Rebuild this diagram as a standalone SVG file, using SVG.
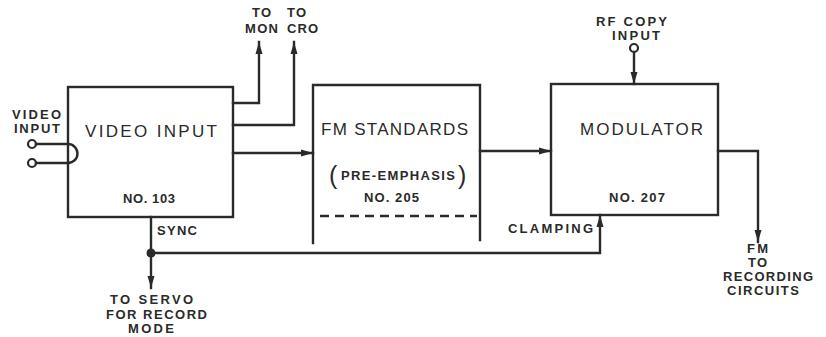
<svg xmlns="http://www.w3.org/2000/svg" width="826" height="337" viewBox="0 0 826 337">
<style>
.ln{fill:none;stroke:#2a2a2a;stroke-width:2.4;stroke-linecap:square}
.big{font-family:"Liberation Sans",Arial,sans-serif;font-size:17px;fill:#2a2a2a}
.par{font-family:"Liberation Sans",Arial,sans-serif;font-size:25px;fill:#2a2a2a}
.sm{font-family:"Liberation Sans",Arial,sans-serif;font-size:13px;font-weight:bold;fill:#2a2a2a}
</style>
<defs>
<marker id="ah" viewBox="0 0 12 8" refX="12" refY="4" markerWidth="12" markerHeight="8" markerUnits="userSpaceOnUse" orient="auto">
<path d="M0,0.5 L12,4 L0,7.5 Z" fill="#2a2a2a"/>
</marker>
</defs>
<rect width="826" height="337" fill="#fff"/>

<g id="video-input">
<rect class="ln" x="68" y="87" width="165" height="130"/>
<text class="big" x="85" y="137" textLength="132" lengthAdjust="spacing">VIDEO INPUT</text>
<text class="sm" x="123" y="203" textLength="52" lengthAdjust="spacing">NO. 103</text>
</g>

<g id="video-terminal">
<text class="sm" x="12" y="119" textLength="49" lengthAdjust="spacing">VIDEO</text>
<text class="sm" x="14" y="133" textLength="46" lengthAdjust="spacing">INPUT</text>
<circle cx="32" cy="144" r="4" fill="#fff" stroke="#2a2a2a" stroke-width="2.2"/>
<circle cx="32" cy="163" r="4" fill="#fff" stroke="#2a2a2a" stroke-width="2.2"/>
<path class="ln" d="M36,144 H68 A9.5,9.5 0 0 1 68,163 H36"/>
</g>

<g id="fm-standards">
<path class="ln" d="M313,243 V85 H480 V240"/>
<line x1="320" y1="216" x2="477" y2="216" stroke="#2a2a2a" stroke-width="2.4" stroke-dasharray="9,6"/>
<text class="big" x="321" y="135" textLength="147" lengthAdjust="spacing">FM STANDARDS</text>
<text class="par" x="329" y="184">(</text>
<text class="sm" x="341" y="180" textLength="114" lengthAdjust="spacing">PRE-EMPHASIS</text>
<text class="par" x="458" y="184">)</text>
<text class="sm" x="364" y="202" textLength="55" lengthAdjust="spacing">NO. 205</text>
</g>

<g id="modulator">
<rect class="ln" x="551" y="84" width="167" height="131"/>
<text class="big" x="580" y="135" textLength="123" lengthAdjust="spacing">MODULATOR</text>
<text class="sm" x="609" y="202" textLength="56" lengthAdjust="spacing">NO. 207</text>
</g>

<g id="rf-copy-input">
<text class="sm" x="596" y="26" textLength="71" lengthAdjust="spacing">RF COPY</text>
<text class="sm" x="612" y="40" textLength="48" lengthAdjust="spacing">INPUT</text>
<circle cx="634" cy="48" r="4" fill="#fff" stroke="#2a2a2a" stroke-width="2.2"/>
</g>

<g id="labels">
<text class="sm" x="252" y="17" textLength="19" lengthAdjust="spacing">TO</text>
<text class="sm" x="245" y="33" textLength="33" lengthAdjust="spacing">MON</text>
<text class="sm" x="287" y="17" textLength="19" lengthAdjust="spacing">TO</text>
<text class="sm" x="287" y="33" textLength="31" lengthAdjust="spacing">CRO</text>
<text class="sm" x="157" y="235" textLength="40" lengthAdjust="spacing">SYNC</text>
<text class="sm" x="110" y="304" textLength="83" lengthAdjust="spacing">TO SERVO</text>
<text class="sm" x="106" y="319" textLength="101" lengthAdjust="spacing">FOR RECORD</text>
<text class="sm" x="128" y="333" textLength="46" lengthAdjust="spacing">MODE</text>
<text class="sm" x="508" y="233" textLength="85" lengthAdjust="spacing">CLAMPING</text>
<text class="sm" x="747" y="253" textLength="21" lengthAdjust="spacing">FM</text>
<text class="sm" x="748" y="267" textLength="19" lengthAdjust="spacing">TO</text>
<text class="sm" x="723" y="281" textLength="90" lengthAdjust="spacing">RECORDING</text>
<text class="sm" x="727" y="295" textLength="72" lengthAdjust="spacing">CIRCUITS</text>
</g>

<g id="connectors">
<path class="ln" d="M233,103 H259 V42" marker-end="url(#ah)"/>
<path class="ln" d="M233,125 H294 V42" marker-end="url(#ah)"/>
<path class="ln" d="M233,153 H313" marker-end="url(#ah)"/>
<path class="ln" d="M480,151 H551" marker-end="url(#ah)"/>
<path class="ln" d="M634,52 V84" marker-end="url(#ah)"/>
<path class="ln" d="M718,151 H758 V242" marker-end="url(#ah)"/>
<path class="ln" d="M151,217 V288" marker-end="url(#ah)"/>
<path class="ln" d="M151,253 H600 V215" marker-end="url(#ah)"/>
<circle cx="151" cy="253" r="4.5" fill="#2a2a2a"/>
</g>
</svg>
